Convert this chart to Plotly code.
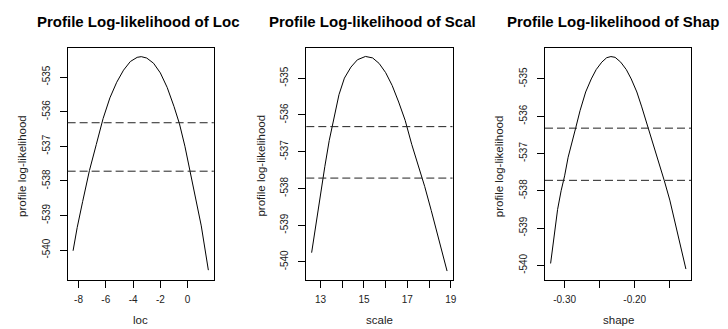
import plotly.graph_objects as go

# ---- data ----
loc_x = [-8.40, -8.1, -7.7, -7.2, -6.7, -6.2, -5.7, -5.2, -4.7, -4.2, -3.7, -3.4,
         -3.0, -2.5, -2.0, -1.5, -1.0, -0.6, -0.2, 0.2, 0.6, 1.0, 1.52]
loc_ll = [-540.02, -539.35, -538.6, -537.7, -536.95, -536.2, -535.6, -535.15, -534.8,
          -534.55, -534.43, -534.41, -534.45, -534.6, -534.88, -535.3, -535.85, -536.35,
          -537.0, -537.8, -538.5, -539.3, -540.58]

scale_x = [12.59, 12.8, 13.0, 13.2, 13.4, 13.6, 13.85, 14.1, 14.4, 14.7, 15.07, 15.4,
           15.7, 16.0, 16.3, 16.6, 16.9, 17.2, 17.5, 17.8, 18.1, 18.4, 18.83]
scale_ll = [-539.75, -538.9, -538.1, -537.4, -536.7, -536.1, -535.45, -535.0, -534.7,
            -534.5, -534.41, -534.45, -534.6, -534.85, -535.2, -535.65, -536.15, -536.8,
            -537.35, -537.95, -538.6, -539.25, -540.25]

shape_x = [-0.320, -0.315, -0.310, -0.305, -0.300, -0.295, -0.290, -0.284, -0.278, -0.270,
           -0.262, -0.255, -0.247, -0.240, -0.234, -0.228, -0.220, -0.212, -0.205, -0.197,
           -0.190, -0.185, -0.180, -0.173, -0.165, -0.158, -0.150, -0.143, -0.135, -0.127]
shape_ll = [-539.95, -539.2, -538.5, -538.0, -537.6, -537.1, -536.7, -536.3, -535.85, -535.35,
            -535.0, -534.75, -534.55, -534.43, -534.40, -534.42, -534.55, -534.75, -535.0, -535.35,
            -535.75, -536.05, -536.35, -536.8, -537.3, -537.72, -538.25, -538.8, -539.4, -540.1]

conf_levels = [-536.32, -537.72]

titles = ["Profile Log-likelihood of Loc", "Profile Log-likelihood of Scal",
          "Profile Log-likelihood of Shap"]
xlabels = ["loc", "scale", "shape"]
ylabel = "profile log-likelihood"

y_tickvals = [-540, -539, -538, -537, -536, -535]
y_ticktext = ["-540", "-539", "-538", "-537", "-536", "-535"]
loc_tickvals = [-8, -6, -4, -2, 0]
loc_ticktext = ["-8", "-6", "-4", "-2", "0"]
scale_tickvals = [13, 14, 15, 16, 17, 18, 19]
scale_ticktext = ["13", "", "15", "", "17", "", "19"]
shape_tickvals = [-0.30, -0.25, -0.20, -0.15]
shape_ticktext = ["-0.30", "", "-0.20", ""]

# ---- layout (pixels) ----
W, H = 728, 329
FONT = "Liberation Sans, Arial, sans-serif"
panels = [
    dict(x=loc_x, y=loc_ll, px=(68, 215), xr=(-8.80, 1.92), yr=(-540.85, -534.16),
         tv=loc_tickvals, tt=loc_ticktext, title_x=35),
    dict(x=scale_x, y=scale_ll, px=(308, 455), xr=(12.345, 19.08), yr=(-540.48, -534.18),
         tv=scale_tickvals, tt=scale_ticktext, title_x=268),
    dict(x=shape_x, y=shape_ll, px=(548, 695), xr=(-0.328, -0.1195), yr=(-540.38, -534.17),
         tv=shape_tickvals, tt=shape_ticktext, title_x=508),
]
top_px, bot_px = 48, 279.5
ydom = [1 - bot_px / H, 1 - top_px / H]

fig = go.Figure()
annotations = []
shapes = []
for i, p in enumerate(panels):
    n = "" if i == 0 else str(i + 1)
    fig.add_trace(go.Scatter(x=p["x"], y=p["y"], mode="lines",
                             line=dict(color="black", width=1),
                             xaxis="x" + n, yaxis="y" + n, showlegend=False,
                             hoverinfo="skip"))
    axcommon = dict(showline=True, mirror=True, linecolor="black", linewidth=1,
                    ticks="outside", ticklen=7, tickwidth=1, tickcolor="black",
                    showgrid=False, zeroline=False,
                    tickfont=dict(family=FONT, size=10, color="#222"))
    fig.layout["xaxis" + n] = dict(domain=[p["px"][0] / W, p["px"][1] / W], range=list(p["xr"]),
                                   anchor="y" + n, tickmode="array", tickvals=p["tv"],
                                   ticktext=p["tt"], ticklabelstandoff=3, **axcommon)
    fig.layout["yaxis" + n] = dict(domain=ydom, range=list(p["yr"]), anchor="x" + n,
                                   tickmode="array", tickvals=y_tickvals, ticktext=y_ticktext,
                                   tickangle=-90, ticklabelstandoff=6, **axcommon)
    for lvl in conf_levels:
        shapes.append(dict(type="line", xref="x" + n + " domain", yref="y" + n,
                           x0=0, x1=1, y0=lvl, y1=lvl,
                           line=dict(color="#222", width=1, dash="8px,4px")))
    annotations.append(dict(text="<b>" + titles[i] + "</b>", x=p["title_x"] / W, y=1 - 22 / H,
                            xref="paper", yref="paper", xanchor="left", yanchor="middle",
                            showarrow=False, font=dict(family=FONT, size=15, color="black")))
    cx = (p["px"][0] + p["px"][1]) / 2
    annotations.append(dict(text=xlabels[i], x=cx / W, y=1 - 320 / H, xref="paper", yref="paper",
                            xanchor="center", yanchor="middle", showarrow=False,
                            font=dict(family=FONT, size=11.5, color="#222")))
    annotations.append(dict(text=ylabel, x=(p["px"][0] - 46) / W, y=1 - 166 / H,
                            xref="paper", yref="paper", xanchor="center", yanchor="middle",
                            textangle=-90, showarrow=False,
                            font=dict(family=FONT, size=11.5, color="#222")))

fig.update_layout(width=W, height=H, margin=dict(l=0, r=0, t=0, b=0),
                  paper_bgcolor="white", plot_bgcolor="white",
                  annotations=annotations, shapes=shapes)

fig.write_html("out.html", config={"displayModeBar": False},
               post_script="document.body.style.margin='0';document.body.style.overflow='hidden';")
